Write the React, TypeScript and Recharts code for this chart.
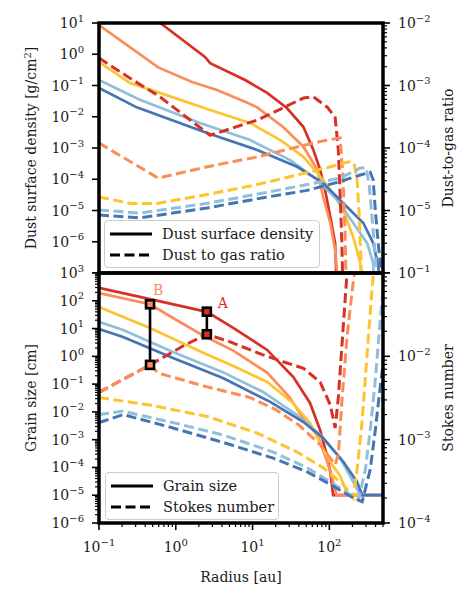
import React from 'react';
import { ComposedChart, Line, XAxis, YAxis, Legend } from 'recharts';

const FONT = '"DejaVu Serif", serif';
const TEXT = '#1a1a1a';

const RED = '#d73027';
const ORANGE = '#fc8d59';
const YELLOW = '#fdc42f';
const LBLUE = '#91bfdb';
const BLUE = '#4575b4';

type Pair = [number, number];

// ---------- Top panel: dust surface density [g/cm^2] (left axis) ----------
const sigmaRed: Pair[] = [[0.1, 300], [0.68, 8.6], [2.4, 0.82], [2.8, 0.52], [8.0, 0.15], [15.5, 0.058], [28, 0.019], [46, 0.0047], [62, 8.6e-4], [76, 2e-4], [88, 4.5e-5], [103, 6.2e-6], [119, 9e-7], [127, 1e-8]];
const sigmaOrange: Pair[] = [[0.1, 8.5], [0.59, 0.38], [1.63, 0.13], [3.45, 0.072], [8, 0.03], [11.5, 0.02], [25, 0.0047], [46, 0.0011], [70, 2e-4], [83, 2.7e-5], [103, 4e-6], [119, 5.5e-7], [138, 1e-8]];
const sigmaYellow: Pair[] = [[0.1, 0.56], [0.254, 0.12], [0.62, 0.058], [2.8, 0.0165], [9.3, 0.0063], [23, 0.0018], [46, 5.2e-4], [70, 1.6e-4], [103, 4.6e-5], [152, 1.04e-5], [205, 1.4e-6], [253, 2.1e-7], [270, 1e-8]];
const sigmaLightBlue: Pair[] = [[0.1, 0.15], [0.34, 0.035], [2.07, 0.0063], [9.3, 0.0018], [31, 4.1e-4], [70, 9.5e-5], [127, 2.2e-5], [205, 4e-6], [311, 9e-7], [373, 2.1e-7], [390, 1e-8]];
const sigmaBlue: Pair[] = [[0.1, 0.083], [0.31, 0.02], [2.56, 0.003], [11.5, 8.7e-4], [38, 2.5e-4], [83, 7.6e-5], [152, 1.7e-5], [277, 4e-6], [373, 9e-7], [435, 1.6e-7], [480, 1e-8]];

// ---------- Top panel: dust-to-gas ratio (right axis) ----------
const d2gRed: Pair[] = [[0.1, 2.75e-3], [0.239, 1.37e-3], [0.62, 6.6e-4], [2.8, 1.6e-4], [11.5, 2.8e-4], [25, 4.4e-4], [46, 6.3e-4], [62, 6.6e-4], [94, 4.5e-4], [119, 3.1e-4], [131, 9.3e-5], [139, 1.5e-5], [146, 2.8e-6], [150, 5e-7]];
const d2gOrange: Pair[] = [[0.1, 1.2e-4], [0.59, 3.3e-5], [2.56, 5e-5], [11.5, 7.2e-5], [38, 1.04e-4], [83, 1.3e-4], [138, 1.45e-4], [150, 3.7e-5], [160, 4.9e-6], [166, 5e-7]];
const d2gYellow: Pair[] = [[0.1, 1.65e-5], [0.254, 1.3e-5], [0.57, 1.3e-5], [2.56, 1.8e-5], [11.5, 2.6e-5], [38, 3.7e-5], [103, 5e-5], [178, 6e-5], [210, 5.7e-5], [230, 3.1e-5], [245, 8.5e-6], [258, 1.6e-6], [268, 5e-7]];
const d2gLightBlue: Pair[] = [[0.1, 1.02e-5], [0.34, 9.1e-6], [2.56, 1.3e-5], [13.7, 1.9e-5], [51.5, 2.6e-5], [138, 3.3e-5], [253, 4.8e-5], [302, 4.8e-5], [330, 2.6e-5], [362, 7e-6], [397, 1.9e-6], [425, 5e-7]];
const d2gBlue: Pair[] = [[0.1, 8.5e-6], [0.34, 7.6e-6], [2.56, 1.1e-5], [13.7, 1.6e-5], [51.5, 2.1e-5], [138, 2.9e-5], [253, 3.7e-5], [341, 4.1e-5], [372, 3.1e-5], [397, 1.02e-5], [436, 2.8e-6], [477, 9e-7], [500, 5e-7]];

// ---------- Bottom panel: grain size [cm] (left axis) ----------
const sizeRed: Pair[] = [[0.1, 290], [0.462, 115], [2.54, 40], [5.6, 10.5], [15.5, 1.7], [34, 0.18], [56, 0.021], [76, 2.2e-3], [94, 2.4e-4], [103, 6.9e-5], [112, 1e-5], [500, 1e-5]];
const sizeOrange: Pair[] = [[0.1, 190], [0.462, 75], [0.92, 24], [2.3, 5.5], [5.6, 1.6], [15.5, 0.26], [30, 0.035], [50, 4e-3], [70, 1.5e-3], [94, 1.6e-4], [109, 4.2e-5], [124, 1e-5], [500, 1e-5]];
const sizeYellow: Pair[] = [[0.1, 60], [0.462, 10.5], [2.2, 1.4], [5.6, 0.45], [15.5, 0.12], [33, 0.022], [56, 4e-3], [83, 4.5e-4], [110, 1.2e-4], [138, 5e-5], [165, 1.5e-5], [180, 1e-5], [500, 1e-5]];
const sizeLightBlue: Pair[] = [[0.1, 17.4], [0.206, 8.9], [0.92, 1.43], [4.1, 0.27], [13.7, 0.052], [38, 7.7e-3], [76, 1.5e-3], [138, 2.2e-4], [205, 3e-5], [253, 1e-5], [500, 1e-5]];
const sizeBlue: Pair[] = [[0.1, 9.6], [0.206, 5.0], [0.92, 0.87], [4.1, 0.166], [17, 0.023], [46, 4.3e-3], [83, 1.15e-3], [152, 1.6e-4], [230, 3e-5], [268, 1e-5], [500, 1e-5]];

// ---------- Bottom panel: Stokes number (right axis) ----------
const stokesRed: Pair[] = [[0.1, 3.7e-3], [0.462, 7.9e-3], [1.32, 0.0137], [2.54, 0.0184], [5.1, 0.0149], [13.7, 0.0104], [25, 8.6e-3], [46, 7.2e-3], [76, 4.9e-3], [103, 2.6e-3], [119, 1.38e-3], [131, 3.2e-3], [150, 0.0196], [170, 0.1], [180, 0.3]];
const stokesOrange: Pair[] = [[0.1, 3.7e-3], [0.462, 7.9e-3], [0.59, 6.3e-3], [2.56, 4.3e-3], [9.3, 3.2e-3], [20, 2.3e-3], [40, 1.5e-3], [76, 8.7e-4], [119, 5e-4], [131, 6.6e-4], [147, 3.2e-3], [170, 0.017], [199, 0.063], [213, 0.1], [230, 0.3]];
const stokesYellow: Pair[] = [[0.1, 3.2e-3], [0.462, 2.6e-3], [2.56, 1.9e-3], [11.5, 1.2e-3], [38, 7.1e-4], [83, 4.6e-4], [152, 2.9e-4], [205, 2e-4], [230, 4.4e-4], [268, 1.7e-3], [311, 0.011], [362, 0.068], [376, 0.1], [400, 0.2]];
const stokesLightBlue: Pair[] = [[0.1, 2e-3], [0.206, 2.2e-3], [0.92, 1.6e-3], [4.1, 1.14e-3], [18.6, 7.1e-4], [51.5, 4.6e-4], [103, 3.1e-4], [187, 2.2e-4], [240, 1.9e-4], [295, 4.4e-4], [341, 1.3e-3], [397, 5.2e-3], [460, 0.027], [500, 0.063], [550, 0.2]];
const stokesBlue: Pair[] = [[0.1, 1.6e-3], [0.206, 2e-3], [0.92, 1.38e-3], [4.1, 9.3e-4], [18.6, 6e-4], [51.5, 4.1e-4], [103, 2.9e-4], [205, 2e-4], [268, 1.8e-4], [341, 4.4e-4], [397, 1.3e-3], [460, 4.3e-3], [500, 7.9e-3], [600, 0.04]];

// ---------- Annotations (radius, grain size, Stokes number) ----------
const markerA = { label: 'A', r: 2.54, size: 40.5, stokes: 0.0184, color: RED };
const markerB = { label: 'B', r: 0.462, size: 75, stokes: 7.9e-3, color: ORANGE };

// ---------- Axes ----------
const X_DOMAIN: [number, number] = [0.1, 500];
const SIGMA_DOMAIN: [number, number] = [1e-7, 10];
const D2G_DOMAIN: [number, number] = [1e-6, 1e-2];
const SIZE_DOMAIN: [number, number] = [1e-6, 1e3];
const STOKES_DOMAIN: [number, number] = [1e-4, 1e-1];

const xTickExps = [-1, 0, 1, 2];
const sigmaTickExps = [1, 0, -1, -2, -3, -4, -5, -6];
const d2gTickExps = [-2, -3, -4, -5];
const sizeTickExps = [3, 2, 1, 0, -1, -2, -3, -4, -5, -6];
const stokesTickExps = [-1, -2, -3, -4];

const legendTop = [
  { label: 'Dust surface density', dashed: false },
  { label: 'Dust to gas ratio', dashed: true },
];
const legendBottom = [
  { label: 'Grain size', dashed: false },
  { label: 'Stokes number', dashed: true },
];

// ---------- helpers ----------
const toPts = (a: Pair[]) => a.map(([r, v]) => ({ r, v }));

function logTicks(domain: [number, number], minor: boolean): number[] {
  const out: number[] = [];
  const e0 = Math.floor(Math.log10(domain[0]) + 1e-9);
  const e1 = Math.floor(Math.log10(domain[1]) + 1e-9);
  for (let e = e0; e <= e1; e++) {
    for (let k = 1; k <= 9; k++) {
      if (!minor && k > 1) break;
      const v = Number((k * Math.pow(10, e)).toPrecision(6));
      if (v >= domain[0] * (1 - 1e-9) && v <= domain[1] * (1 + 1e-9)) out.push(v);
    }
  }
  return out;
}

const decade = (v: number) => {
  const e = Math.log10(v);
  const r = Math.round(e);
  return Math.abs(e - r) < 1e-6 ? r : null;
};
const expText = (e: number) => (e < 0 ? '\u2212' + Math.abs(e) : String(e));

// map a value on the right (Stokes) axis to the equivalent position on the left (size) axis
function stokesOnSizeAxis(s: number) {
  const [a0, a1] = SIZE_DOMAIN.map(Math.log10);
  const [b0, b1] = STOKES_DOMAIN.map(Math.log10);
  const t = (Math.log10(s) - b0) / (b1 - b0);
  return Math.pow(10, a0 + t * (a1 - a0));
}

const TICK_FS = 14;
const LABEL_FS = 14;

function PowerLabel({ x, y, e, anchor }: { x: number; y: number; e: number; anchor: 'start' | 'middle' | 'end' }) {
  return (
    <text x={x} y={y} textAnchor={anchor} fontFamily={FONT} fontSize={TICK_FS} fill={TEXT}>
      <tspan>10</tspan>
      <tspan dy={-6.5} fontSize={10}>{expText(e)}</tspan>
    </text>
  );
}

function renderYTick(p: any, side: 'left' | 'right', labels: number[]) {
  const { x, y, payload } = p;
  const e = decade(payload.value);
  const major = e !== null;
  const len = major ? 7 : 4;
  const dir = side === 'left' ? -1 : 1;
  return (
    <g>
      <line x1={x} x2={x + dir * len} y1={y} y2={y} stroke="#000" strokeWidth={major ? 1.6 : 1.2} />
      {major && labels.includes(e as number) ? (
        <PowerLabel x={x + dir * 15} y={y + 5} e={e as number} anchor={side === 'left' ? 'end' : 'start'} />
      ) : null}
    </g>
  );
}

function renderXTick(p: any, labeled: boolean) {
  const { x, y, payload } = p;
  const e = decade(payload.value);
  const major = e !== null;
  const len = major ? 7 : 4;
  return (
    <g>
      <line x1={x} x2={x} y1={y} y2={y + len} stroke="#000" strokeWidth={major ? 1.6 : 1.2} />
      {labeled && major && xTickExps.includes(e as number) ? (
        <PowerLabel x={x} y={y + 29} e={e as number} anchor="middle" />
      ) : null}
    </g>
  );
}

const yTitle = (content: React.ReactNode, dx: number) => (props: any) => {
  const vb = props.viewBox || { x: 0, y: 0, width: 0, height: 0 };
  const cx = vb.x + dx;
  const cy = vb.y + vb.height / 2;
  return (
    <text x={cx} y={cy} transform={`rotate(-90 ${cx} ${cy})`} textAnchor="middle" dy="0.35em" fontFamily={FONT} fontSize={LABEL_FS} fill={TEXT}>
      {content}
    </text>
  );
};

const xTitle = (text: string) => (props: any) => {
  const vb = props.viewBox || { x: 0, y: 0, width: 0, height: 0 };
  return (
    <text x={vb.x + vb.width / 2} y={vb.y + 54} textAnchor="middle" dy="0.35em" fontFamily={FONT} fontSize={LABEL_FS} fill={TEXT}>
      {text}
    </text>
  );
};

function LegendBox({ items, width }: { items: { label: string; dashed: boolean }[]; width: number }) {
  return (
    <div
      style={{
        boxSizing: 'border-box',
        width,
        height: 48,
        border: '1px solid #cccccc',
        borderRadius: 4,
        background: 'rgba(255,255,255,0.85)',
        padding: '2px 0 0 5px',
        fontFamily: FONT,
        fontSize: 14.5,
        color: TEXT,
      }}
    >
      {items.map((it) => (
        <div key={it.label} style={{ display: 'flex', alignItems: 'center', height: 21, whiteSpace: 'nowrap' }}>
          <svg width={42} height={8} style={{ flex: 'none' }}>
            <line x1={0} x2={42} y1={4} y2={4} stroke="#000" strokeWidth={3} strokeDasharray={it.dashed ? '10 4.5' : undefined} />
          </svg>
          <span style={{ marginLeft: 10, fontFamily: FONT }}>{it.label}</span>
        </div>
      ))}
    </div>
  );
}

const SOLID_W = 2.7;
const DASH_W = 3;
const DASH = '10 4.5';

function series(list: { d: Pair[]; c: string }[], axis: string, dashed: boolean, prefix: string) {
  return list.map((s, i) => (
    <Line
      key={prefix + i}
      yAxisId={axis}
      data={toPts(s.d)}
      dataKey="v"
      type="linear"
      stroke={s.c}
      strokeWidth={dashed ? DASH_W : SOLID_W}
      strokeDasharray={dashed ? DASH : undefined}
      dot={false}
      activeDot={false}
      isAnimationActive={false}
    />
  ));
}

function squareDot(p: any) {
  const { cx, cy, payload, index } = p;
  if (cx == null || cy == null) return <g key={'d' + index} />;
  return (
    <g key={'d' + index}>
      <rect x={cx - 4} y={cy - 4} width={8} height={8} fill={payload.fill} stroke="#000" strokeWidth={2.6} />
      {payload.label ? (
        <text
          x={cx + payload.lx}
          y={cy + payload.ly}
          textAnchor="middle"
          dy="0.35em"
          fontFamily={FONT}
          fontSize={14}
          fill={payload.fill}
        >
          {payload.label}
        </text>
      ) : null}
    </g>
  );
}

function markerData(m: typeof markerA, lx: number, ly: number) {
  return [
    { r: m.r, v: m.size, fill: m.color, label: m.label, lx, ly },
    { r: m.r, v: stokesOnSizeAxis(m.stokes), fill: m.color, label: '', lx: 0, ly: 0 },
  ];
}

function TopPanel() {
  return (
    <ComposedChart width={473} height={273} margin={{ top: 23, right: 0, bottom: 0, left: 0 }}>
      <XAxis dataKey="r" type="number" scale="log" domain={X_DOMAIN} allowDataOverflow hide />
      <YAxis
        yAxisId="L"
        type="number"
        scale="log"
        domain={SIGMA_DOMAIN}
        allowDataOverflow
        width={99}
        ticks={logTicks(SIGMA_DOMAIN, false)}
        interval={0}
        tickSize={0}
        tickMargin={0}
        tickLine={false}
        axisLine={false}
        tick={(p: any) => renderYTick(p, 'left', sigmaTickExps)}
        label={yTitle(
          <>
            Dust surface density [g/cm<tspan dy={-5} fontSize={10}>2</tspan>
            <tspan dy={5}>]</tspan>
          </>,
          31
        )}
      />
      <YAxis
        yAxisId="R"
        orientation="right"
        type="number"
        scale="log"
        domain={D2G_DOMAIN}
        allowDataOverflow
        width={90}
        ticks={logTicks(D2G_DOMAIN, true)}
        interval={0}
        tickSize={0}
        tickMargin={0}
        tickLine={false}
        axisLine={false}
        tick={(p: any) => renderYTick(p, 'right', d2gTickExps)}
        label={yTitle('Dust-to-gas ratio', 65)}
      />
      {series(
        [
          { d: sigmaRed, c: RED },
          { d: sigmaOrange, c: ORANGE },
          { d: sigmaYellow, c: YELLOW },
          { d: sigmaLightBlue, c: LBLUE },
          { d: sigmaBlue, c: BLUE },
        ],
        'L',
        false,
        'ts'
      )}
      {series(
        [
          { d: d2gRed, c: RED },
          { d: d2gOrange, c: ORANGE },
          { d: d2gYellow, c: YELLOW },
          { d: d2gLightBlue, c: LBLUE },
          { d: d2gBlue, c: BLUE },
        ],
        'R',
        true,
        'td'
      )}
      <Legend
        layout="vertical"
        align="center"
        verticalAlign="middle"
        wrapperStyle={{ left: 104, top: 220, width: 216, height: 48 }}
        content={() => <LegendBox items={legendTop} width={216} />}
      />
    </ComposedChart>
  );
}

const BOTTOM_TOP_PAD = 20;

function BottomPanel() {
  return (
    <ComposedChart width={473} height={327 + BOTTOM_TOP_PAD} margin={{ top: BOTTOM_TOP_PAD, right: 0, bottom: 0, left: 0 }}>
      <XAxis
        dataKey="r"
        type="number"
        scale="log"
        domain={X_DOMAIN}
        allowDataOverflow
        height={77}
        ticks={logTicks(X_DOMAIN, true)}
        interval={0}
        tickSize={0}
        tickMargin={0}
        tickLine={false}
        axisLine={false}
        tick={(p: any) => renderXTick(p, true)}
        label={xTitle('Radius [au]')}
      />
      <XAxis
        xAxisId="top"
        orientation="top"
        dataKey="r"
        type="number"
        scale="log"
        domain={X_DOMAIN}
        allowDataOverflow
        height={0}
        ticks={logTicks(X_DOMAIN, true)}
        interval={0}
        tickSize={0}
        tickMargin={0}
        tickLine={false}
        axisLine={false}
        tick={(p: any) => renderXTick(p, false)}
      />
      <YAxis
        yAxisId="L"
        type="number"
        scale="log"
        domain={SIZE_DOMAIN}
        allowDataOverflow
        width={99}
        ticks={logTicks(SIZE_DOMAIN, true)}
        interval={0}
        tickSize={0}
        tickMargin={0}
        tickLine={false}
        axisLine={false}
        tick={(p: any) => renderYTick(p, 'left', sizeTickExps)}
        label={yTitle('Grain size [cm]', 31)}
      />
      <YAxis
        yAxisId="R"
        orientation="right"
        type="number"
        scale="log"
        domain={STOKES_DOMAIN}
        allowDataOverflow
        width={90}
        ticks={logTicks(STOKES_DOMAIN, true)}
        interval={0}
        tickSize={0}
        tickMargin={0}
        tickLine={false}
        axisLine={false}
        tick={(p: any) => renderYTick(p, 'right', stokesTickExps)}
        label={yTitle('Stokes number', 65)}
      />
      {series(
        [
          { d: sizeRed, c: RED },
          { d: sizeOrange, c: ORANGE },
          { d: sizeYellow, c: YELLOW },
          { d: sizeLightBlue, c: LBLUE },
          { d: sizeBlue, c: BLUE },
        ],
        'L',
        false,
        'bs'
      )}
      {series(
        [
          { d: stokesRed, c: RED },
          { d: stokesOrange, c: ORANGE },
          { d: stokesYellow, c: YELLOW },
          { d: stokesLightBlue, c: LBLUE },
          { d: stokesBlue, c: BLUE },
        ],
        'R',
        true,
        'bd'
      )}
      <Line
        yAxisId="L"
        data={markerData(markerB, 8, -14)}
        dataKey="v"
        type="linear"
        stroke="#000"
        strokeWidth={2.6}
        dot={squareDot}
        activeDot={false}
        isAnimationActive={false}
      />
      <Line
        yAxisId="L"
        data={markerData(markerA, 16, -9)}
        dataKey="v"
        type="linear"
        stroke="#000"
        strokeWidth={2.6}
        dot={squareDot}
        activeDot={false}
        isAnimationActive={false}
      />
      <Legend
        layout="vertical"
        align="center"
        verticalAlign="middle"
        wrapperStyle={{ left: 105, top: 199 + BOTTOM_TOP_PAD, width: 174, height: 48 }}
        content={() => <LegendBox items={legendBottom} width={174} />}
      />
    </ComposedChart>
  );
}

export default function App() {
  return (
    <div style={{ position: 'absolute', left: 0, top: 0, width: 473, height: 600, background: '#fff', fontFamily: FONT }}>
      <div style={{ position: 'absolute', left: 0, top: 0 }}>
        <TopPanel />
      </div>
      <div style={{ position: 'absolute', left: 0, top: 273 - BOTTOM_TOP_PAD }}>
        <BottomPanel />
      </div>
      <svg width={473} height={600} style={{ position: 'absolute', left: 0, top: 0, pointerEvents: 'none' }}>
        <rect x={99} y={23} width={284} height={250} fill="none" stroke="#000" strokeWidth={3.5} />
        <rect x={99} y={273} width={284} height={250} fill="none" stroke="#000" strokeWidth={3.5} />
      </svg>
    </div>
  );
}
